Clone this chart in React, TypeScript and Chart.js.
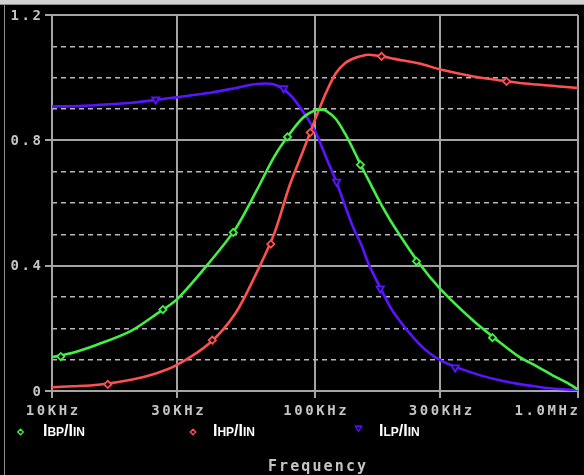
import React, { useEffect, useRef } from 'react';
import { Chart, registerables } from 'chart.js';

Chart.register(...registerables);

const W = 584;
const H = 475;

// Frequencies (kHz) at which the traces were read
const freqKHz = [10, 12, 15, 20, 25, 30, 40, 50, 60, 70, 80, 90, 100, 105, 110, 120, 130, 140, 150, 160, 180, 200, 250, 300, 400, 500, 600, 700, 800, 900, 1000];
const bpValues = [0.108, 0.122, 0.149, 0.192, 0.246, 0.294, 0.414, 0.519, 0.64, 0.748, 0.82, 0.872, 0.896, 0.898, 0.895, 0.868, 0.822, 0.77, 0.718, 0.672, 0.59, 0.525, 0.405, 0.325, 0.224, 0.158, 0.108, 0.078, 0.05, 0.028, 0.005];
const hpValues = [0.012, 0.015, 0.02, 0.036, 0.057, 0.084, 0.155, 0.25, 0.378, 0.503, 0.655, 0.765, 0.866, 0.91, 0.951, 1.014, 1.046, 1.061, 1.069, 1.073, 1.068, 1.06, 1.045, 1.026, 1.004, 0.992, 0.983, 0.978, 0.974, 0.97, 0.967];
const lpValues = [0.908, 0.909, 0.913, 0.92, 0.929, 0.938, 0.952, 0.967, 0.98, 0.978, 0.947, 0.892, 0.83, 0.789, 0.747, 0.672, 0.592, 0.52, 0.467, 0.405, 0.318, 0.248, 0.149, 0.098, 0.057, 0.035, 0.022, 0.014, 0.008, 0.005, 0.003];

// Trace markers
const bpMarkerKHz = [10.8, 26.4, 48.9, 78.6, 148.8, 243, 473];
const bpMarkerValues = [0.11, 0.26, 0.506, 0.811, 0.722, 0.414, 0.17];
const hpMarkerKHz = [16.3, 40.7, 67.9, 95.9, 179, 535];
const hpMarkerValues = [0.021, 0.162, 0.469, 0.825, 1.068, 0.988];
const lpMarkerKHz = [24.8, 76, 120.8, 177, 341];
const lpMarkerValues = [0.93, 0.966, 0.668, 0.327, 0.075];

// Axes
const xTickKHz = [10, 30, 100, 300, 1000];
const xTickLabels = ['10KHz', '30KHz', '100KHz', '300KHz', '1.0MHz'];
const yTickValues = [0, 0.4, 0.8, 1.2];
const yTickLabels = ['0', '0.4', '0.8', '1.2'];
const yMinorValues = [0.1, 0.2, 0.3, 0.5, 0.6, 0.7, 0.9, 1.0, 1.1];
const xAxisTitle = 'Frequency';

// Legend
const legendSubs = ['BP', 'HP', 'LP'];

const GREEN = '#44f044';
const RED = '#ff5050';
const BLUE = '#5a14ff';
const GRID = '#a4a4a4';
const DASH = '#b8b8b8';
const LABEL = '#c4c4c4';
const MONO = '"DejaVu Sans Mono", monospace';
const SANS = '"Liberation Sans", Arial, sans-serif';

function spacedWidth(ctx: CanvasRenderingContext2D, text: string, sp: number) {
  (ctx as any).letterSpacing = '0px';
  const w = ctx.measureText(text).width;
  return w + sp * (text.length - 1);
}

function drawSpaced(ctx: CanvasRenderingContext2D, text: string, x: number, y: number, sp: number) {
  (ctx as any).letterSpacing = sp + 'px';
  ctx.textAlign = 'left';
  ctx.fillText(text, x, y);
  (ctx as any).letterSpacing = '0px';
}

function drawMarker(ctx: CanvasRenderingContext2D, kind: string, x: number, y: number, r: number, color: string, lw: number) {
  ctx.save();
  ctx.strokeStyle = color;
  ctx.lineWidth = lw;
  ctx.fillStyle = '#000';
  ctx.beginPath();
  if (kind === 'diamond') {
    ctx.moveTo(x, y - r);
    ctx.lineTo(x + r, y);
    ctx.lineTo(x, y + r);
    ctx.lineTo(x - r, y);
  } else {
    ctx.moveTo(x - r, y - r * 0.7);
    ctx.lineTo(x + r, y - r * 0.7);
    ctx.lineTo(x, y + r * 0.9);
  }
  ctx.closePath();
  ctx.fill();
  ctx.stroke();
  ctx.restore();
}

const pspicePlugin = {
  id: 'pspiceDecor',
  beforeDraw(chart: any) {
    const ctx: CanvasRenderingContext2D = chart.ctx;
    ctx.save();
    ctx.fillStyle = '#000';
    ctx.fillRect(0, 0, W, H);
    ctx.fillStyle = '#d2d2d2';
    ctx.fillRect(0, 0, W, 4);
    ctx.fillStyle = '#8c8c8c';
    ctx.fillRect(0, 4, W, 1);
    ctx.fillRect(4, 4, 1, H - 4);
    ctx.restore();
  },
  afterDraw(chart: any) {
    const ctx: CanvasRenderingContext2D = chart.ctx;
    const xs = chart.scales.x;
    const ys = chart.scales.y;
    const area = chart.chartArea;
    ctx.save();
    ctx.fillStyle = LABEL;
    ctx.font = 'bold 14px ' + MONO;
    ctx.textBaseline = 'middle';
    const sp = 2.6;
    yTickValues.forEach((v, i) => {
      const t = yTickLabels[i];
      const w = spacedWidth(ctx, t, sp);
      const py = ys.getPixelForValue(v);
      drawSpaced(ctx, t, 41 - w, py + 1, sp);
    });
    xTickKHz.forEach((f, i) => {
      const t = xTickLabels[i];
      const w = spacedWidth(ctx, t, sp);
      const px = xs.getPixelForValue(f * 1000);
      let left = px - w / 2;
      if (left + w > area.right) left = area.right - w;
      drawSpaced(ctx, t, left, 411, sp);
    });
    ctx.font = 'bold 15px ' + MONO;
    ctx.textBaseline = 'alphabetic';
    const tsp = 2.1;
    const tw = spacedWidth(ctx, xAxisTitle, tsp);
    drawSpaced(ctx, xAxisTitle, (area.left + area.right) / 2 + 2 - tw / 2, 471, tsp);

    const items = [
      { sub: legendSubs[0], color: GREEN, kind: 'diamond', mx: 20.5, my: 432, tx: 43 },
      { sub: legendSubs[1], color: RED, kind: 'diamond', mx: 193, my: 432, tx: 213 },
      { sub: legendSubs[2], color: BLUE, kind: 'triangle', mx: 358.5, my: 428.5, tx: 379 },
    ];
    items.forEach((it) => {
      drawMarker(ctx, it.kind, it.mx, it.my, it.kind === 'diamond' ? 2.8 : 3.2, it.color, 1.3);
      ctx.fillStyle = '#ffffff';
      ctx.textBaseline = 'alphabetic';
      ctx.textAlign = 'left';
      const parts: [string, number][] = [['I', 16], [it.sub, 12], ['/I', 16], ['IN', 12]];
      let x = it.tx;
      parts.forEach(([s, size]) => {
        ctx.font = 'bold ' + size + 'px ' + SANS;
        ctx.fillText(s, x, 436);
        x += ctx.measureText(s).width;
      });
    });
    ctx.restore();
  },
};

function curve(vals: number[], color: string) {
  return {
    type: 'line' as const,
    data: freqKHz.map((f, i) => ({ x: f * 1000, y: vals[i] })),
    borderColor: color,
    borderWidth: 2.6,
    pointRadius: 0,
    tension: 0.3,
    fill: false,
    order: 2,
  };
}

function markers(fs: number[], vs: number[], color: string, style: string, rot: number, r: number) {
  return {
    type: 'line' as const,
    data: fs.map((f, i) => ({ x: f * 1000, y: vs[i] })),
    showLine: false,
    pointStyle: style,
    rotation: rot,
    pointRadius: r,
    pointBorderColor: color,
    pointBackgroundColor: '#000',
    pointBorderWidth: 1.8,
    order: 1,
  };
}

export default function App() {
  const canvasRef = useRef<HTMLCanvasElement | null>(null);

  useEffect(() => {
    const canvas = canvasRef.current;
    if (!canvas) return;
    const chart = new Chart(canvas, {
      type: 'line',
      data: {
        datasets: [
          curve(bpValues, GREEN),
          curve(hpValues, RED),
          curve(lpValues, BLUE),
          markers(bpMarkerKHz, bpMarkerValues, GREEN, 'rectRot', 0, 3.6),
          markers(hpMarkerKHz, hpMarkerValues, RED, 'rectRot', 0, 3.6),
          markers(lpMarkerKHz, lpMarkerValues, BLUE, 'triangle', 180, 4.2),
        ] as any,
      },
      options: {
        animation: false,
        responsive: false,
        maintainAspectRatio: false,
        devicePixelRatio: 1,
        layout: { padding: { left: 44, right: 1, top: 15, bottom: 77 } },
        plugins: { legend: { display: false }, tooltip: { enabled: false }, title: { display: false } },
        scales: {
          x: {
            type: 'logarithmic',
            min: 1e4,
            max: 1e6,
            afterBuildTicks: (s: any) => {
              s.ticks = xTickKHz.map((v) => ({ value: v * 1000 }));
            },
            afterFit: (s: any) => {
              s.height = 7;
            },
            ticks: { display: false },
            grid: { color: GRID, lineWidth: 2, drawTicks: true, tickLength: 7, tickColor: GRID, tickWidth: 2 },
            border: { display: true, color: GRID, width: 2 },
          },
          y: {
            type: 'linear',
            min: 0,
            max: 1.2,
            afterBuildTicks: (s: any) => {
              s.ticks = yTickValues.map((v) => ({ value: v }));
            },
            afterFit: (s: any) => {
              s.width = 8;
            },
            ticks: { display: false },
            grid: { color: GRID, lineWidth: 2, drawTicks: true, tickLength: 7, tickColor: GRID, tickWidth: 2 },
            border: { display: true, color: GRID, width: 2 },
          },
          y2: {
            type: 'linear',
            position: 'left',
            min: 0,
            max: 1.2,
            afterBuildTicks: (s: any) => {
              s.ticks = yMinorValues.map((v) => ({ value: v }));
            },
            afterFit: (s: any) => {
              s.width = 0;
            },
            ticks: { display: false },
            grid: { color: DASH, lineWidth: 1.6, drawTicks: false },
            border: { display: false, dash: [5, 4] },
          },
        } as any,
      },
      plugins: [pspicePlugin as any],
    });
    return () => chart.destroy();
  }, []);

  return (
    <div style={{ position: 'absolute', left: 0, top: 0, width: W, height: H, background: '#000' }}>
      <canvas ref={canvasRef} width={W} height={H} style={{ display: 'block', width: W, height: H }} />
    </div>
  );
}
